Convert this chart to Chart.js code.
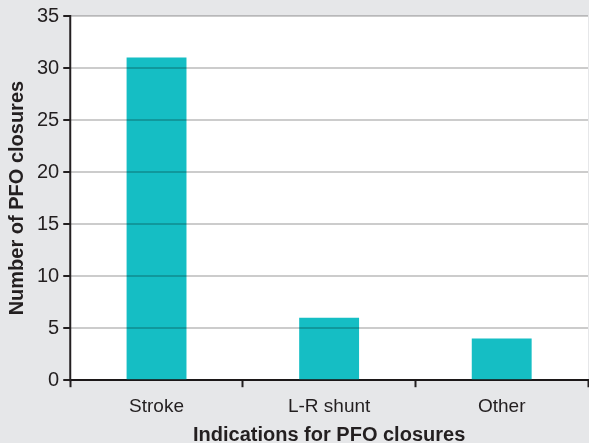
<!DOCTYPE html>
<html>
<head>
<meta charset="utf-8">
<script src="https://cdn.jsdelivr.net/npm/chart.js@4/dist/chart.umd.min.js"></script>
<style>
  body { margin: 0; background: #e6e7e9; }
  canvas { display: block; }
</style>
</head>
<body>
<canvas id="chart" width="589" height="443"></canvas>
<script>
const categories = ['Stroke', 'L-R shunt', 'Other'];
const closures = [31, 6, 4];
const yTicks = [0, 5, 10, 15, 20, 25, 30, 35];

const fontFamily = "'Liberation Sans', Arial, sans-serif";
const ink = '#231f20';

// white plot area on grey page, plus the left axis line
const plotFrame = {
    id: 'plotFrame',
    beforeDraw(chart) {
        const a = chart.chartArea;
        const ctx = chart.ctx;
        ctx.save();
        ctx.fillStyle = '#ffffff';
        ctx.fillRect(a.left, a.top, a.right - a.left, a.bottom - a.top);
        ctx.restore();
    },
    afterDraw(chart) {
        const a = chart.chartArea;
        const ctx = chart.ctx;
        ctx.save();
        ctx.strokeStyle = ink;
        ctx.lineWidth = 2;
        ctx.beginPath();
        ctx.moveTo(a.left, a.top - 1);
        ctx.lineTo(a.left, a.bottom + 1);
        ctx.stroke();
        ctx.restore();
    }
};

new Chart(document.getElementById('chart'), {
    type: 'bar',
    data: {
        labels: categories,
        datasets: [{
            data: closures,
            backgroundColor: '#15bec4',
            barPercentage: 0.347,
            categoryPercentage: 1
        }]
    },
    options: {
        responsive: false,
        animation: false,
        layout: { padding: { top: -2, right: 1, left: 5, bottom: -4 } },
        plugins: {
            legend: { display: false },
            tooltip: { enabled: false }
        },
        scales: {
            x: {
                border: { color: ink, width: 2 },
                grid: {
                    offset: true,
                    drawOnChartArea: false,
                    drawTicks: true,
                    tickLength: 7,
                    tickColor: ink,
                    tickWidth: 2
                },
                ticks: {
                    color: ink,
                    font: { family: fontFamily, size: 19 },
                    padding: 8
                },
                title: {
                    display: true,
                    text: 'Indications for PFO closures',
                    color: ink,
                    font: { family: fontFamily, size: 20, weight: 'bold' },
                    padding: { top: -3, bottom: 0 }
                }
            },
            y: {
                min: 0,
                max: 35,
                afterBuildTicks(scale) {
                    scale.ticks = yTicks.map(v => ({ value: v }));
                },
                border: { display: false },
                grid: {
                    z: 1,
                    color: 'rgba(0,0,0,0.2)',
                    lineWidth: 2,
                    drawTicks: true,
                    tickLength: 7,
                    tickColor: ink,
                    tickWidth: 2
                },
                ticks: {
                    color: ink,
                    font: { family: fontFamily, size: 20 },
                    padding: 4
                },
                title: {
                    display: true,
                    text: 'Number of PFO closures',
                    color: ink,
                    font: { family: fontFamily, size: 20, weight: 'bold' },
                    padding: { top: 0, bottom: 4 }
                }
            }
        }
    },
    plugins: [plotFrame]
});
</script>
</body>
</html>
